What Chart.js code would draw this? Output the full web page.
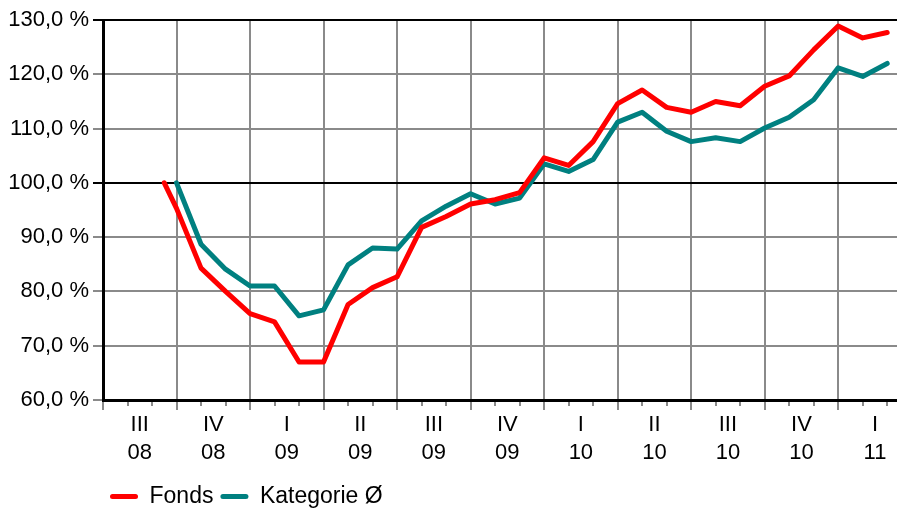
<!DOCTYPE html>
<html>
<head>
<meta charset="utf-8">
<script src="https://cdn.jsdelivr.net/npm/chart.js@4.4.1/dist/chart.umd.min.js"></script>
<style>
  html, body { margin: 0; padding: 0; background: #fff; }
  #wrap { position: relative; width: 897px; height: 508px; }
</style>
</head>
<body>
<div id="wrap"><canvas id="perfChart" width="897" height="508"></canvas></div>
<script>
// Monatswerte (x = Monate seit Anfang III/08)
var fondsMonths = [2.5, 3, 4, 5, 6, 7, 8, 9, 10, 11, 12, 13, 14, 15, 16, 17, 18, 19, 20, 21, 22, 23, 24, 25, 26, 27, 28, 29, 30, 31, 32];
var fondsValues = [100, 95.3, 84.3, 80.0, 75.9, 74.4, 67.0, 67.0, 77.6, 80.7, 82.7, 91.8, 93.8, 96.1, 96.9, 98.2, 104.6, 103.2, 107.6, 114.6, 117.1, 113.9, 113.0, 115.0, 114.2, 117.8, 119.7, 124.5, 128.9, 126.7, 127.7];
var katMonths = [3, 4, 5, 6, 7, 8, 9, 10, 11, 12, 13, 14, 15, 16, 17, 18, 19, 20, 21, 22, 23, 24, 25, 26, 27, 28, 29, 30, 31, 32];
var katValues = [100, 88.7, 84.1, 81.0, 81.0, 75.5, 76.6, 84.9, 88.0, 87.8, 93.0, 95.7, 98.0, 96.1, 97.2, 103.5, 102.1, 104.3, 111.2, 113.0, 109.5, 107.6, 108.3, 107.6, 110.1, 112.1, 115.3, 121.2, 119.6, 122.0];

var quarterLabels = ["III", "IV", "I", "II", "III", "IV", "I", "II", "III", "IV", "I"];
var yearLabels = ["08", "08", "09", "09", "09", "09", "10", "10", "10", "10", "11"];

var GRAY = "#8a8a8a";
var FONT = "'Liberation Sans', Arial, sans-serif";

function toPoints(xs, ys) {
    return xs.map((x, i) => ({ x: x, y: ys[i] }));
}

var ctx = document.getElementById("perfChart");

var perfChart = new Chart(ctx, {
    type: "line",
    data: {
        datasets: [
            {
                label: "Fonds",
                data: toPoints(fondsMonths, fondsValues),
                borderColor: "#ff0000",
                backgroundColor: "#ff0000",
                borderWidth: 5,
                borderJoinStyle: "round",
                borderCapStyle: "round",
                pointRadius: 0,
                tension: 0,
            },
            {
                label: "Kategorie Ø",
                data: toPoints(katMonths, katValues),
                borderColor: "#008080",
                backgroundColor: "#008080",
                borderWidth: 5,
                borderJoinStyle: "round",
                borderCapStyle: "round",
                pointRadius: 0,
                tension: 0,
            },
        ],
    },
    options: {
        responsive: false,
        animation: false,
        layout: { padding: { top: 20, right: 0, left: 0, bottom: -10 } },
        scales: {
            x: {
                type: "linear",
                position: "bottom",
                weight: 1,
                min: 0,
                max: 32.4,
                border: { color: "#000", width: 3 },
                grid: {
                    lineWidth: 2,
                    tickLength: 10,
                    color: (c) => (c.tick && c.tick.value % 3 === 0 ? GRAY : "rgba(0,0,0,0)"),
                    tickColor: (c) => (c.tick && c.tick.value % 3 === 0 ? GRAY : "rgba(0,0,0,0)"),
                },
                ticks: {
                    stepSize: 0.5,
                    maxTicksLimit: 200,
                    includeBounds: false,
                    autoSkip: false,
                    maxRotation: 0,
                    minRotation: 0,
                    padding: 1,
                    color: "#000",
                    font: { family: FONT, size: 22, lineHeight: 1.27 },
                    callback: function (value) {
                        if (value % 3 !== 1.5) return "";
                        var q = Math.round((value - 1.5) / 3);
                        return [quarterLabels[q], yearLabels[q]];
                    },
                },
                afterFit: function (scale) {
                    scale.height = 78;
                },
            },
            xm: {
                // kleine Monatsstriche
                type: "linear",
                position: "bottom",
                weight: 0,
                min: 0,
                max: 32.4,
                border: { display: false },
                grid: {
                    drawOnChartArea: false,
                    lineWidth: 2,
                    tickLength: 6,
                    tickColor: GRAY,
                },
                ticks: { stepSize: 1, maxTicksLimit: 200, includeBounds: false, display: false },
                afterFit: function (scale) {
                    scale.height = 0;
                },
            },
            y: {
                min: 60,
                max: 130,
                border: { color: "#000", width: 3 },
                grid: {
                    lineWidth: 2,
                    tickLength: 10,
                    color: (c) => (c.tick && (c.tick.value === 100 || c.tick.value === 130) ? "#000" : GRAY),
                },
                ticks: {
                    stepSize: 10,
                    padding: 4,
                    color: "#000",
                    font: { family: FONT, size: 22 },
                    callback: (v) => v.toFixed(1).replace(".", ",") + " %",
                },
                afterFit: function (scale) {
                    scale.width = 103;
                },
            },
        },
        plugins: {
            legend: {
                position: "bottom",
                align: "start",
                fullSize: false,
                labels: {
                    boxWidth: 28,
                    boxHeight: 5,
                    padding: 7,
                    color: "#000",
                    useBorderRadius: true,
                    borderRadius: 2.5,
                    font: { family: FONT, size: 23 },
                    generateLabels: (chart) =>
                        Chart.defaults.plugins.legend.labels.generateLabels(chart).map((l) => Object.assign(l, { lineWidth: 0 })),
                },
            },
            tooltip: { enabled: false },
        },
    },
});
</script>
</body>
</html>
